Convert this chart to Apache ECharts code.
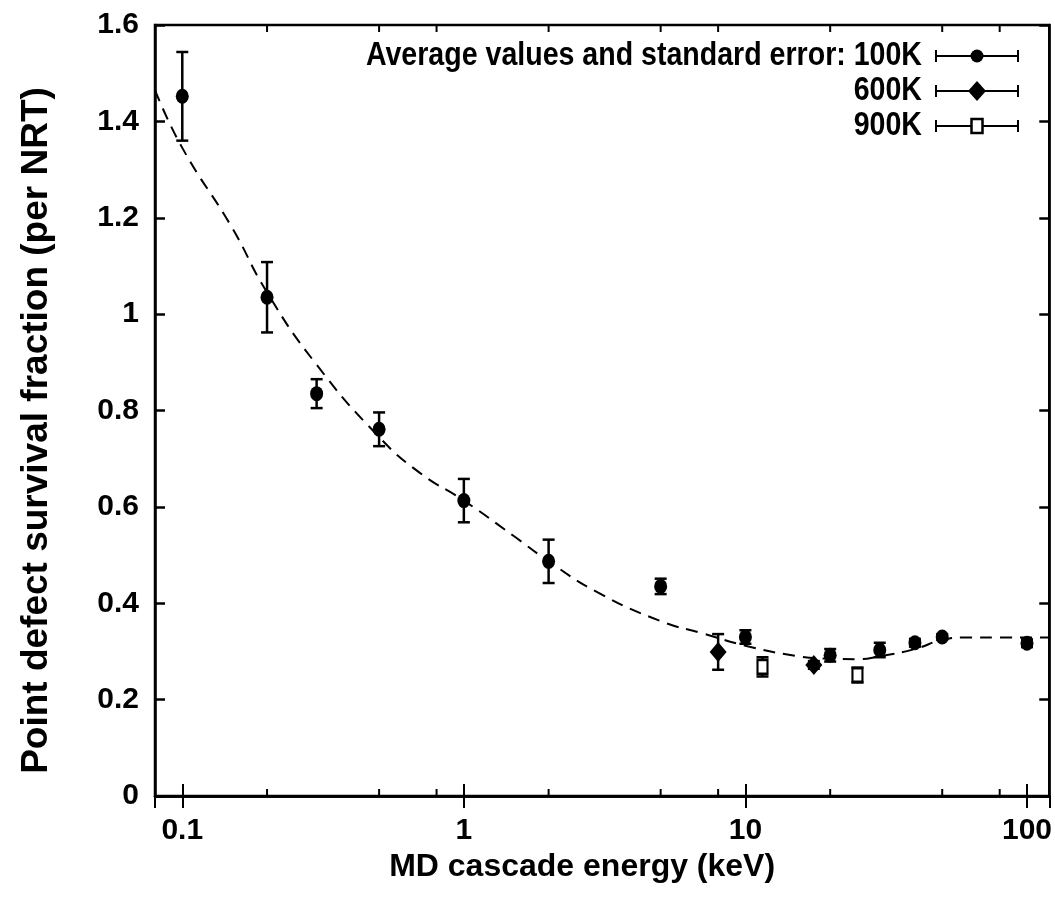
<!DOCTYPE html>
<html><head><meta charset="utf-8">
<script src="https://cdn.jsdelivr.net/npm/echarts@6/dist/echarts.min.js"></script>
<style>html,body{margin:0;padding:0;background:#fff}#c{width:1055px;height:906px}</style>
</head><body><div id="c"></div>
<script>
const energy100K = [0.1, 0.2, 0.3, 0.5, 1, 2, 5, 10, 20, 30, 40, 50, 100];
const value100K  = [1.452, 1.035, 0.835, 0.761, 0.613, 0.487, 0.435, 0.330, 0.292, 0.303, 0.318, 0.330, 0.317];
const err100K    = [0.092, 0.073, 0.030, 0.035, 0.045, 0.045, 0.016, 0.014, 0.013, 0.015, 0.008, 0.006, 0.008];
const energy600K = [8, 17.5];
const value600K  = [0.299, 0.272];
const err600K    = [0.037, 0.008];
const energy900K = [11.5, 25];
const value900K  = [0.268, 0.251];
const err900K    = [0.020, 0.015];
const fitEnergy  = [0.08, 0.1, 0.15, 0.2, 0.3, 0.5, 0.7, 1, 1.5, 2, 3, 5, 7, 10, 15, 20, 25, 30, 40, 50, 60, 80, 120];
const fitValue   = [1.465, 1.345, 1.18, 1.045, 0.895, 0.745, 0.67, 0.613, 0.54, 0.487, 0.422, 0.363, 0.338, 0.312, 0.291, 0.285, 0.284, 0.29, 0.305, 0.324, 0.329, 0.329, 0.329];
const minorTickEnergy = [0.2, 0.5, 0.8, 2, 5, 8, 20, 50, 80];
const legendLabels = ['Average values and standard error: 100K', '600K', '900K'];

const FONT = '"Liberation Sans", Arial, sans-serif';
const chart = echarts.init(document.getElementById('c'), null, {renderer: 'canvas'});

function errRender(params, api) {
  const x = api.value(0), y = api.value(1), e = api.value(2);
  const t = api.coord([x, y + e]), b = api.coord([x, y - e]);
  const w = 6;
  const st = {stroke: '#000', lineWidth: 2.5};
  return {type: 'group', children: [
    {type: 'line', shape: {x1: t[0], y1: t[1], x2: b[0], y2: b[1]}, style: st},
    {type: 'line', shape: {x1: t[0] - w, y1: t[1], x2: t[0] + w, y2: t[1]}, style: st},
    {type: 'line', shape: {x1: b[0] - w, y1: b[1], x2: b[0] + w, y2: b[1]}, style: st}
  ]};
}
function tickRender(params, api) {
  const p = api.coord([api.value(0), 0]);
  const cs = params.coordSys;
  const st = {stroke: '#000', lineWidth: 2};
  return {type: 'group', children: [
    {type: 'line', shape: {x1: p[0], y1: cs.y + cs.height, x2: p[0], y2: cs.y + cs.height - 7}, style: st},
    {type: 'line', shape: {x1: p[0], y1: cs.y, x2: p[0], y2: cs.y + 7}, style: st}
  ]};
}
const zip3 = (a, b, c) => a.map((v, i) => [v, b[i], c[i]]);
const zip2 = (a, b) => a.map((v, i) => [v, b[i]]);

const axisLineStyle = {color: '#000', width: 2.5};
const labelStyle = {color: '#000', fontFamily: FONT, fontWeight: 'bold', fontSize: 30};

// legend layout
const lgX = 922, lgY0 = 56, lgDY = 35, lgL = 936, lgR = 1018, lgM = 977;
const graphics = [];
legendLabels.forEach((t, i) => {
  const y = lgY0 + i * lgDY;
  graphics.push({type: 'text', x: lgX, y: y, scaleX: 0.84, style: {text: t, x: 0, y: 0, align: 'right', verticalAlign: 'middle', fill: '#000', font: 'bold 34px ' + FONT}});
  graphics.push({type: 'line', shape: {x1: lgL, y1: y, x2: lgR, y2: y}, style: {stroke: '#000', lineWidth: 2}});
  graphics.push({type: 'line', shape: {x1: lgL, y1: y - 6, x2: lgL, y2: y + 6}, style: {stroke: '#000', lineWidth: 2}});
  graphics.push({type: 'line', shape: {x1: lgR, y1: y - 6, x2: lgR, y2: y + 6}, style: {stroke: '#000', lineWidth: 2}});
});
graphics.push({type: 'circle', shape: {cx: lgM, cy: lgY0, r: 6.5}, style: {fill: '#000'}});
graphics.push({type: 'polygon', shape: {points: [[lgM, lgY0 + lgDY - 10], [lgM + 9, lgY0 + lgDY], [lgM, lgY0 + lgDY + 10], [lgM - 9, lgY0 + lgDY]]}, style: {fill: '#000'}});
graphics.push({type: 'rect', shape: {x: lgM - 5.5, y: lgY0 + 2 * lgDY - 7, width: 11, height: 14}, style: {fill: '#fff', stroke: '#000', lineWidth: 2.5}});

chart.setOption({
  animation: false,
  backgroundColor: '#fff',
  grid: {left: 155, right: 5, top: 25, bottom: 110, show: true, borderColor: '#000', borderWidth: 2.5, backgroundColor: 'transparent'},
  xAxis: [
    {type: 'log', logBase: 10, min: 0.08, max: 120, position: 'bottom',
     axisLine: {show: true, lineStyle: axisLineStyle},
     axisTick: {show: true, inside: true, length: 12, lineStyle: {color: '#000', width: 2}},
     axisLabel: Object.assign({margin: 20, showMinLabel: false, showMaxLabel: false,
       formatter: v => String(+(+v).toPrecision(3))}, labelStyle),
     splitLine: {show: false},
     name: 'MD cascade energy (keV)', nameLocation: 'middle', nameGap: 54,
     nameTextStyle: {color: '#000', fontFamily: FONT, fontWeight: 'bold', fontSize: 32, padding: [0, 40, 0, 0]}},
    {type: 'log', logBase: 10, min: 0.08, max: 120, position: 'top',
     axisLine: {show: true, lineStyle: axisLineStyle},
     axisTick: {show: true, inside: true, length: 12, lineStyle: {color: '#000', width: 2}},
     axisLabel: {show: false}, splitLine: {show: false}}
  ],
  yAxis: [
    {type: 'value', min: 0, max: 1.6, interval: 0.2, position: 'left',
     axisLine: {show: true, lineStyle: axisLineStyle},
     axisTick: {show: true, inside: true, length: 10, lineStyle: {color: '#000', width: 2.5}},
     axisLabel: Object.assign({margin: 16}, labelStyle),
     splitLine: {show: false},
     name: 'Point defect survival fraction (per NRT)', nameLocation: 'middle', nameGap: 100,
     nameTextStyle: {color: '#000', fontFamily: FONT, fontWeight: 'bold', fontSize: 37, padding: [0, 40, 0, 0]}},
    {type: 'value', min: 0, max: 1.6, interval: 0.2, position: 'right',
     axisLine: {show: true, lineStyle: axisLineStyle},
     axisTick: {show: true, inside: true, length: 10, lineStyle: {color: '#000', width: 2.5}},
     axisLabel: {show: false}, splitLine: {show: false}}
  ],
  graphic: graphics,
  series: [
    {type: 'line', name: 'fit', data: zip2(fitEnergy, fitValue), smooth: true, showSymbol: false, symbol: 'none',
     lineStyle: {color: '#000', width: 2, type: [12, 8]}, z: 2, silent: true},
    {type: 'custom', name: 'ticks', data: minorTickEnergy.map(e => [e, 0]), renderItem: tickRender, encode: {x: 0, y: 1}, clip: false, z: 3, silent: true},
    {type: 'custom', name: 'err100K', data: zip3(energy100K, value100K, err100K), renderItem: errRender, encode: {x: 0, y: 1}, z: 4},
    {type: 'custom', name: 'err600K', data: zip3(energy600K, value600K, err600K), renderItem: errRender, encode: {x: 0, y: 1}, z: 4},
    {type: 'custom', name: 'err900K', data: zip3(energy900K, value900K, err900K), renderItem: errRender, encode: {x: 0, y: 1}, z: 4},
    {type: 'scatter', name: '100K', data: zip2(energy100K, value100K), symbol: 'circle', symbolSize: [13, 15],
     itemStyle: {color: '#000', opacity: 1}, z: 5},
    {type: 'scatter', name: '600K', data: zip2(energy600K, value600K), symbol: 'diamond', symbolSize: [17, 20],
     itemStyle: {color: '#000', opacity: 1}, z: 5},
    {type: 'scatter', name: '900K', data: zip2(energy900K, value900K), symbol: 'rect', symbolSize: [10, 14],
     itemStyle: {color: '#fff', borderColor: '#000', borderWidth: 2.5, opacity: 1}, z: 6}
  ]
});
</script></body></html>
